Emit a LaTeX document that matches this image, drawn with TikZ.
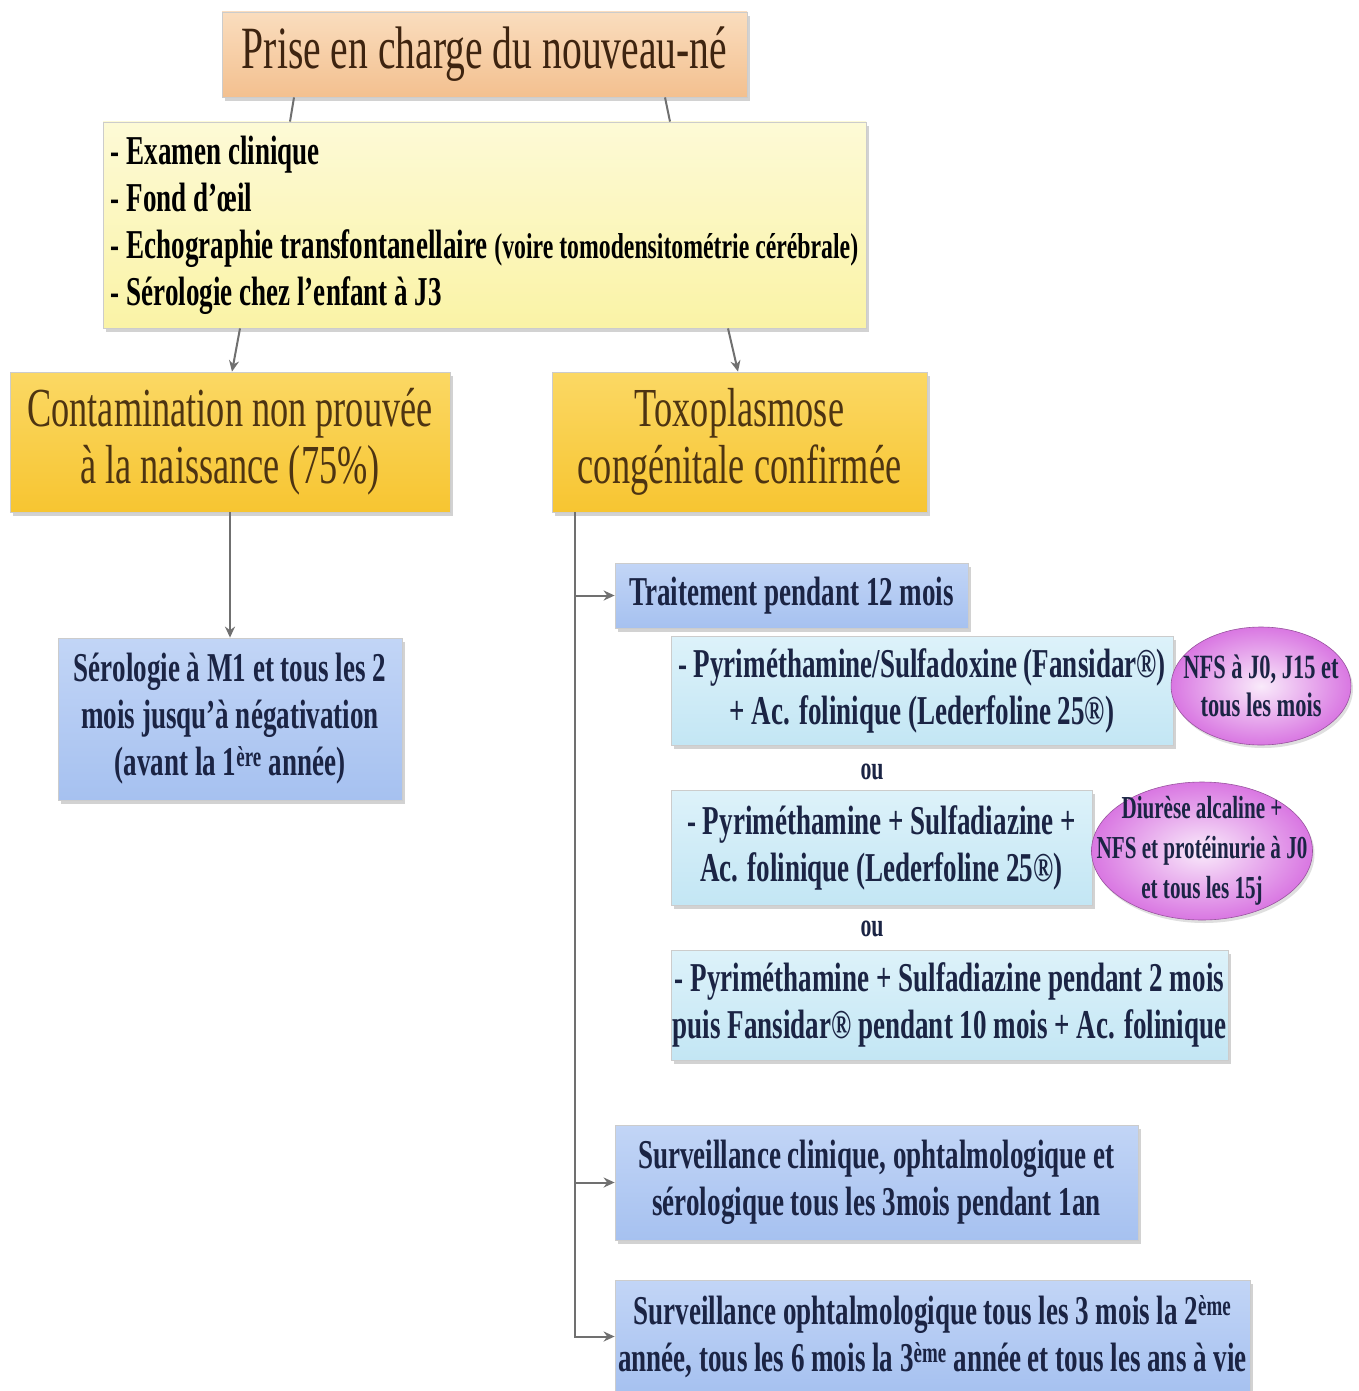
\documentclass[tikz,border=0pt]{standalone}
\usepackage{fontspec}
\setmainfont{Liberation Serif}
\newfontfamily\narrowfont[FakeStretch=0.66]{Liberation Serif}
\usetikzlibrary{shapes.geometric,shadows,arrows.meta}
\definecolor{peach}{HTML}{F3C08F}
\definecolor{peachtop}{HTML}{FADDBE}
\definecolor{cream}{HTML}{FAF3A6}
\definecolor{creamtop}{HTML}{FDFAD6}
\definecolor{gold}{HTML}{F7C531}
\definecolor{goldtop}{HTML}{FBD864}
\definecolor{lavblue}{HTML}{A6C1F0}
\definecolor{lavbluetop}{HTML}{C2D5F6}
\definecolor{icecyan}{HTML}{C3E6F4}
\definecolor{icecyantop}{HTML}{DDF2FA}
\definecolor{orchid}{HTML}{D977E2}
\definecolor{navy}{HTML}{1B2444}
\definecolor{darkbrown}{HTML}{3E2410}
\definecolor{olivebrown}{HTML}{4D3412}
\definecolor{linkgray}{HTML}{707070}
\begin{document}
\begin{tikzpicture}[x=1pt, y=-1pt, >={Stealth[length=11pt,width=10pt]},
  every node/.style={inner sep=0pt},
  panel/.style={rectangle, draw=black!20, line width=0.8pt, align=center,
    drop shadow={shadow xshift=3pt, shadow yshift=-4pt, opacity=0.35},
    text=navy, font=\fontsize{41}{47}\selectfont\narrowfont\bfseries},
  headbox/.style={panel, top color=peachtop, bottom color=peach, text=darkbrown,
    font=\fontsize{60}{66}\selectfont\narrowfont},
  exambox/.style={panel, top color=creamtop, bottom color=cream, align=left,
    text=black},
  goldbox/.style={panel, top color=goldtop, bottom color=gold, text=olivebrown,
    font=\fontsize{55}{57}\selectfont\narrowfont},
  bluebox/.style={panel, top color=lavbluetop, bottom color=lavblue},
  icebox/.style={panel, top color=icecyantop, bottom color=icecyan},
  bulle/.style={ellipse, shading=radial, inner color=orchid!15, outer color=orchid,
    draw=orchid!70!black, line width=0.6pt, align=center, text=navy,
    drop shadow={shadow xshift=2pt, shadow yshift=-3pt, opacity=0.25},
    font=\fontsize{34}{38}\selectfont\narrowfont\bfseries},
  ou/.style={text=navy, font=\fontsize{33}{38}\selectfont\narrowfont\bfseries},
  link/.style={draw=linkgray, line width=2pt}]
\useasboundingbox[fill=white] (0,0) rectangle (1358,1391);

%top
\node[headbox, minimum width=525, minimum height=85] (title) at (484.5,54.5)
  {Prise en charge du nouveau-né};
\node[exambox, minimum width=763, minimum height=206] (exam) at (484.5,225)
  {- Examen clinique\\
   - Fond d’œil\\
   - Echographie transfontanellaire {\fontsize{36}{47}\selectfont(voire tomodensitométrie cérébrale)}\\
   - Sérologie chez l’enfant à J3};

%two branches
\node[goldbox, minimum width=440, minimum height=140] (contam) at (230,442)
  {Contamination non prouvée\\à la naissance (75\%)};
\node[goldbox, minimum width=375, minimum height=140] (tox) at (739.5,442)
  {Toxoplasmose\\congénitale confirmée};

%left
\node[bluebox, minimum width=344, minimum height=162] (sero) at (230,719)
  {Sérologie à M1 et tous les 2\\mois jusqu’à négativation\\(avant la 1\textsuperscript{ère} année)};

%right: treatment
\node[bluebox, minimum width=353, minimum height=65] (trait) at (791.5,595.5)
  {Traitement pendant 12 mois};
\node[icebox, minimum width=502, minimum height=109] (opt1) at (922,690.5)
  {- Pyriméthamine/Sulfadoxine (Fansidar®)\\+ Ac. folinique (Lederfoline 25®)};
\node[bulle, inner xsep=-14pt, inner ysep=3pt, minimum width=178, minimum height=118]
  (nfs1) at (1261,686) {NFS à J0, J15 et\\tous les mois};
\node[ou] (ou1) at (872,772) {ou};
\node[icebox, minimum width=421, minimum height=115] (opt2) at (881.5,847.5)
  {- Pyriméthamine + Sulfadiazine +\\Ac. folinique (Lederfoline 25®)};
\node[bulle, inner xsep=-28pt, inner ysep=-9pt, minimum width=221, minimum height=138,
  font=\fontsize{32}{40}\selectfont\narrowfont\bfseries] (nfs2) at (1202,851)
  {Diurèse alcaline +\\NFS et protéinurie à J0\\et tous les 15j};
\node[ou] (ou2) at (872,929) {ou};
\node[icebox, minimum width=557, minimum height=110] (opt3) at (949.5,1005)
  {- Pyriméthamine + Sulfadiazine pendant 2 mois\\puis Fansidar® pendant 10 mois + Ac. folinique};

%right: follow-up
\node[bluebox, minimum width=523, minimum height=115] (surv1) at (876.5,1182.5)
  {Surveillance clinique, ophtalmologique et\\sérologique tous les 3mois pendant 1an};
\node[bluebox, minimum width=635, minimum height=113] (surv2) at (932.5,1336.5)
  {Surveillance ophtalmologique tous les 3 mois la 2\textsuperscript{ème}\\année, tous les 6 mois la 3\textsuperscript{ème} année et tous les ans à vie};

%connectors
\draw[link] ([xshift=-190.5]title.south) -- ([xshift=-194.5]exam.north);
\draw[link] ([xshift=180.5]title.south) -- ([xshift=185.5]exam.north);
\draw[link,->] ([xshift=-244.5]exam.south) -- ([xshift=2]contam.north);
\draw[link,->] ([xshift=243.5]exam.south) -- ([xshift=-1.5]tox.north);
\draw[link,->] (contam.south) -- (sero.north);
\coordinate (trunk) at ([xshift=-164.5]tox.south);
\draw[link,->] (trunk) |- (surv2.west);
\draw[link,->] (trunk |- trait.west) -- (trait.west);
\draw[link,->] (trunk |- surv1.west) -- (surv1.west);
\end{tikzpicture}
\end{document}
